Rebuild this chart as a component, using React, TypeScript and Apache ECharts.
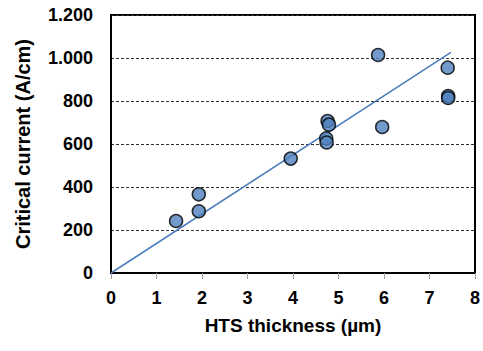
import React, { useEffect, useRef } from "react";
import * as echarts from "echarts";

const thicknessUm = [1.43, 1.93, 1.93, 3.95, 4.76, 4.79, 4.73, 4.74, 5.87, 5.96, 7.4, 7.41, 7.41];
const criticalCurrent = [242, 287, 366, 532, 707, 690, 626, 607, 1014, 679, 955, 823, 814];
const fitX = [0, 7.47];
const fitY = [0, 1026];
const xTicks = [0, 1, 2, 3, 4, 5, 6, 7, 8];
const yTicks = [0, 200, 400, 600, 800, 1000, 1200];

const fmt = (v: number) => {
  const s = String(Math.round(v));
  return s.replace(/\B(?=(\d{3})+(?!\d))/g, ".");
};

export default function App() {
  const ref = useRef<HTMLDivElement>(null);
  useEffect(() => {
    if (!ref.current) return;
    const chart = echarts.init(ref.current, undefined, { renderer: "svg" });
    const font = "'Liberation Sans', Arial, sans-serif";
    chart.setOption({
      animation: false,
      backgroundColor: "#ffffff",
      grid: {
        left: 111,
        top: 15,
        right: 5,
        bottom: 78,
        show: true,
        borderColor: "#000",
        borderWidth: 2,
        backgroundColor: "transparent",
      },
      xAxis: {
        type: "value",
        min: xTicks[0],
        max: xTicks[xTicks.length - 1],
        interval: 1,
        name: "HTS thickness (µm)",
        nameLocation: "middle",
        nameGap: 43,
        nameTextStyle: { fontFamily: font, fontSize: 19, fontWeight: "bold", color: "#000" },
        axisLine: { show: true, lineStyle: { color: "#000", width: 2 } },
        axisTick: { show: true, length: 6, lineStyle: { color: "#a0a0a0", width: 1 } },
        axisLabel: { margin: 16, fontFamily: font, fontSize: 18, fontWeight: "bold", color: "#000" },
        splitLine: { show: false },
      },
      yAxis: {
        type: "value",
        min: yTicks[0],
        max: yTicks[yTicks.length - 1],
        interval: 200,
        name: "Critical current (A/cm)",
        nameLocation: "middle",
        nameGap: 78,
        nameTextStyle: { fontFamily: font, fontSize: 20, fontWeight: "bold", color: "#000" },
        axisLine: { show: true, lineStyle: { color: "#000", width: 2 } },
        axisTick: { show: false },
        axisLabel: {
          margin: 18,
          fontFamily: font,
          fontSize: 18,
          fontWeight: "bold",
          color: "#000",
          formatter: (v: number) => fmt(v),
        },
        splitLine: { show: true, lineStyle: { color: "#333", type: [3, 2], width: 1 } },
      },
      series: [
        {
          type: "line",
          data: fitX.map((x, i) => [x, fitY[i]]),
          showSymbol: false,
          symbol: "none",
          lineStyle: { color: "#4a7ebb", width: 1.5 },
          z: 2,
        },
        {
          type: "scatter",
          data: thicknessUm.map((x, i) => [x, criticalCurrent[i]]),
          symbol: "circle",
          symbolSize: 13,
          itemStyle: { color: "#4f81bd", borderColor: "#000", borderWidth: 1.5 },
          z: 3,
        },
      ],
    });
    return () => chart.dispose();
  }, []);
  return <div ref={ref} style={{ width: 483, height: 351, position: "absolute", left: 0, top: 0 }} />;
}
